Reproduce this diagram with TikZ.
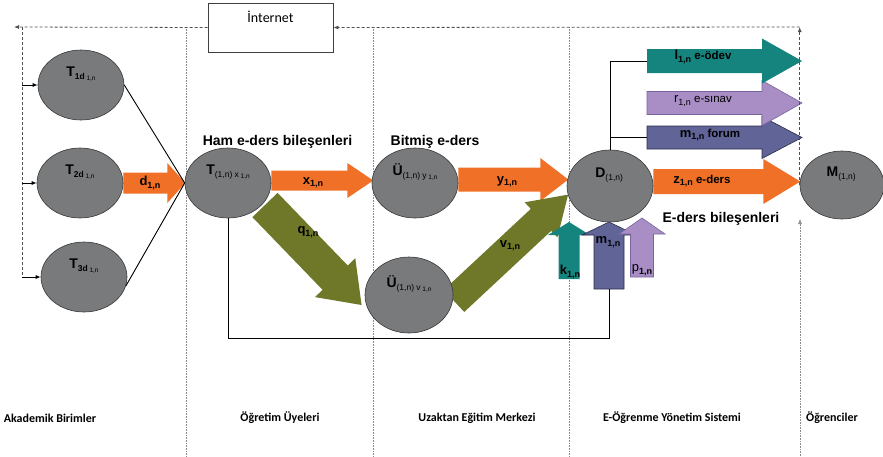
\documentclass[tikz,border=0pt]{standalone}
\usepackage{fontspec}
\setmainfont{Liberation Sans}
\newfontfamily\calfont{Carlito}
\usetikzlibrary{arrows.meta,shapes.geometric,calc}
\pgfdeclarelayer{back}
\pgfdeclarelayer{bg}
\pgfsetlayers{back,bg,main}
\definecolor{ellg}{RGB}{120,122,124}
\definecolor{ellline}{RGB}{55,55,55}
\definecolor{aorange}{RGB}{240,112,40}
\definecolor{aolive}{RGB}{110,120,40}
\definecolor{ateal}{RGB}{22,132,126}
\definecolor{alav}{RGB}{168,142,196}
\definecolor{alavD}{RGB}{120,100,160}
\definecolor{aslate}{RGB}{96,100,150}
\definecolor{aslateD}{RGB}{45,45,75}
\definecolor{sepgray}{RGB}{140,140,140}
\definecolor{dashgray}{RGB}{80,80,80}
% #1 style, #2 start, #3 angle, #4 length, #5 shaft half, #6 head half, #7 head length
\newcommand\fatarrow[7]{%
  \begin{scope}[shift={#2}, rotate=#3]
    \path[#1] (0,#5) -- ({#4-#7},#5) -- ({#4-#7},#6) -- (#4,0) -- ({#4-#7},-#6) -- ({#4-#7},-#5) -- (0,-#5) -- cycle;
  \end{scope}}
\newcommand\elt[3]{{\fontsize{14}{14}\selectfont\bfseries #1}\raisebox{-3pt}{\fontsize{8.5}{8.5}\selectfont\bfseries #2}\,\raisebox{-4pt}{\fontsize{6.5}{6.5}\selectfont #3}}
\newcommand\arl[3]{{\fontsize{13}{13}\selectfont #1}\raisebox{-2.5pt}{\fontsize{9}{9}\selectfont #2}{\fontsize{11.5}{11.5}\selectfont #3}}
\begin{document}
\begin{tikzpicture}[x=1pt,y=-1pt,
  ell/.style={ellipse,draw=ellline,line width=0.6pt,fill=ellg,minimum width=86,minimum height=70,inner sep=0pt},
  sep/.style={draw=sepgray,line width=0.6pt,densely dotted},
  inetline/.style={draw=dashgray,line width=0.8pt,dash pattern=on 3pt off 2pt},
  conn/.style={draw=black,line width=0.9pt},
  small/.style={-{Latex[length=5pt,width=4pt]}},
  lane/.style={font=\calfont\bfseries\fontsize{12}{12}\selectfont},
  head/.style={font=\bfseries\fontsize{14}{14}\selectfont},
  el/.style={yshift=11pt},
  albl/.style={font=\bfseries},
]
\useasboundingbox (0,0) rectangle (883,456);

% lane separators
\begin{pgfonlayer}{back}
\draw[sep] (186,27) -- (186,456);
\draw[sep] (373,27) -- (373,456);
\draw[sep] (569,27) -- (569,456);
\end{pgfonlayer}

% ellipses
\node[ell,label={[el]center:\elt{T}{1d}{1,n}}] (T1) at (81,85) {};
\node[ell,label={[el]center:\elt{T}{2d}{1,n}}] (T2) at (80,183) {};
\node[ell,label={[el]center:\elt{T}{3d}{1,n}}] (T3) at (84,277) {};
\node[ell,label={[el]center:\elt{T}{\mdseries(1,n) x}{1,n}}] (Tx) at (228,183) {};
\node[ell,label={[el]center:\elt{Ü}{\mdseries(1,n) y}{1,n}}] (Uy) at (415,183) {};
\node[ell,minimum width=88,minimum height=76,label={[el]center:\elt{Ü}{\mdseries(1,n) v}{1,n}}] (Uv) at (409,295) {};
\node[ell,minimum height=72,label={[el]center:\elt{D}{\mdseries(1,n)}{}}] (D) at (610,186) {};
\node[ell,minimum width=84,minimum height=68,label={[el]center:\elt{M}{\mdseries(1,n)}{}}] (M) at (842,185) {};

% internet
\node[draw=black!75,line width=0.8pt,minimum width=125,minimum height=49,inner sep=0pt,
  label={[font=\calfont\fontsize{14}{14}\selectfont,yshift=10.5pt]center:İnternet}] (inet) at (270.5,27.5) {};

% tails
\coordinate (ltail) at (647,61);
\coordinate (rtail) at (647,103);
\coordinate (mtail) at (647,137.5);
\coordinate (ktail) at (569,279);
\coordinate (mutail) at (609,289);
\coordinate (ptail) at (642,277);
\coordinate (qtail) at (265,205);
\coordinate (vtail) at (454,301);

% fat arrows
\begin{pgfonlayer}{bg}
\fatarrow{fill=aorange}{(T2.east)}{0}{62}{10.5}{20}{18}
\fatarrow{fill=aorange}{([yshift=2.5pt]Tx.east)}{0}{102}{10}{17.5}{26}
\fatarrow{fill=aorange}{([yshift=3.5pt]Uy.east)}{0}{110}{12}{21.5}{28}
\fatarrow{fill=aorange}{([yshift=4.5pt]D.east)}{0}{147}{12.5}{22.5}{37}
\fatarrow{fill=aslate,draw=aslateD,line width=0.6pt}{(mtail)}{0}{155}{11.5}{21}{40}
\fatarrow{fill=alav,draw=alavD,line width=0.6pt}{(rtail)}{0}{155}{11.5}{22.5}{40}
\fatarrow{fill=ateal}{(ltail)}{0}{155}{12}{22.5}{40}
\fatarrow{fill=aolive}{(qtail)}{-46}{139}{17.5}{28}{38}
\fatarrow{fill=aolive}{(vtail)}{43}{156}{15}{24}{37}
\fatarrow{fill=ateal}{(ktail)}{90}{57}{10.5}{21}{13}
\fatarrow{fill=aslate,draw=aslateD,line width=0.6pt}{(mutail)}{90}{67}{15}{27}{13}
\fatarrow{fill=alav,draw=alavD,line width=0.6pt}{(ptail)}{90}{59}{11.5}{23}{16}
\end{pgfonlayer}

% arrow labels
\node[albl] (ld) at (150,183) {\arl{d}{1,n}{}};
\node[albl] (lx) at (313,183) {\arl{x}{1,n}{}};
\node[albl] (lq) at (308,232) {\arl{q}{1,n}{}};
\node[albl] (ly) at (507,182) {\arl{y}{1,n}{}};
\node[albl] (lv) at (510,246) {\arl{v}{1,n}{}};
\node[albl] (lz) at (702,181) {\arl{z}{1,n}{ e-ders}};
\node[albl] (ll) at (703,57) {\arl{l}{1,n}{ e-ödev}};
\node (lr) at (703,101) {\arl{r}{1,n}{ e-sınav}};
\node[albl] (lm) at (710,135) {\arl{m}{1,n}{ forum}};
\node[albl] (lk) at (570,272) {\arl{k}{1,n}{}};
\node[albl] (lmu) at (608,242) {\arl{m}{1,n}{}};
\node[albl] (lp) at (642,270) {\arl{\mdseries p}{1,n}{}};

% headings
\node[head] (h1) at (277.5,142) {Ham e-ders bileşenleri};
\node[head] (h2) at (435,142) {Bitmiş e-ders};
\node[head] (h3) at (721,219) {E-ders bileşenleri};

% connectors
\draw[conn] (T1.east) -- (Tx.west);
\draw[conn] (T3.-12) -- (Tx.west);
\draw[conn] (D.north) |- (ltail);
\draw[conn] (D.north |- mtail) -- (mtail);
\coordinate (lowc) at (228,338);
\draw[conn] (Tx.south) -- (lowc) -| (mutail);

% internet feedback
\coordinate (tl) at (14,27);
\coordinate (lvt) at (22,27);
\coordinate (lvb) at (22,277);
\coordinate (mb) at (800,456);
\coordinate (ma) at (800,219);
\draw[inetline,-{Latex[length=5pt,width=4pt]}] (inet.west) -- (tl);
\draw[inetline] (lvt) -- (lvb);
\draw[conn,small] (T1.west -| lvt) -- (T1.west);
\draw[conn,small] (T2.west -| lvt) -- (T2.west);
\draw[conn,small] (T3.west -| lvt) -- (T3.west);
\draw[inetline,-{Latex[length=5pt,width=4pt]}] (M.west) -- (M.west |- tl);
\draw[inetline,-{Latex[length=5pt,width=4pt]}] (M.west |- tl) -- (inet.east);
\draw[sep,-{Latex[length=5pt,width=4pt]}] (mb) -- (ma);

% lane titles
\node[lane] (a1) at (50,418) {Akademik Birimler};
\node[lane] (a2) at (280,418) {Öğretim Üyeleri};
\node[lane] (a3) at (477,418) {Uzaktan Eğitim Merkezi};
\node[lane] (a4) at (672,418) {E-Öğrenme Yönetim Sistemi};
\node[lane] (a5) at (832,418) {Öğrenciler};
\end{tikzpicture}
\end{document}
